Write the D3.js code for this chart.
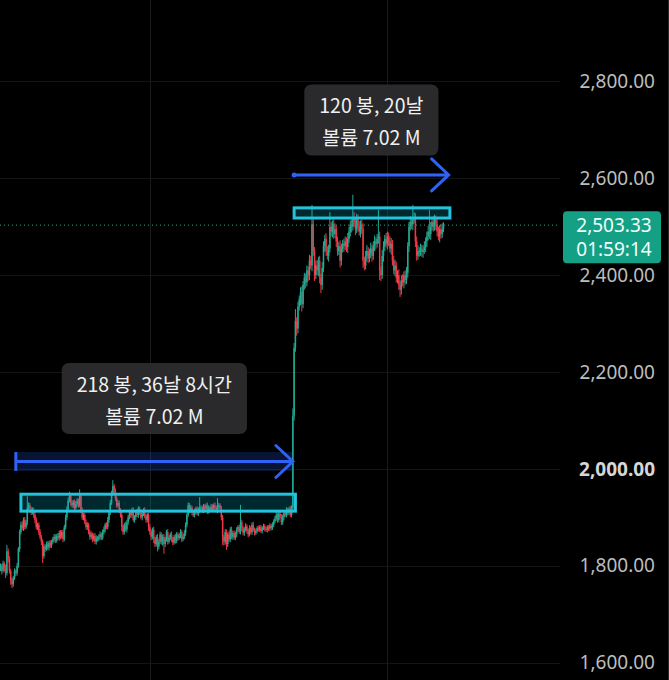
<!DOCTYPE html>
<html><head><meta charset="utf-8">
<script src="https://cdn.jsdelivr.net/npm/d3@7"></script>
<style>html,body{margin:0;padding:0;background:#000;overflow:hidden}</style>
</head><body><svg id="c" width="669" height="680"></svg>
<script>
// ---- data ----
const firstOpen = 1795;
const closes = [
1800,1790,1805,1795,1785, 1830,1815,1790, 1770,1762,1775, 1790,1785,1800, 1835,1870,1885,
1878,1895,1880,1890, 1920, 1925,1918,1910,1915,1905, 1895,1880,1885,1870,1860,1850, 1820,
1840,1835,1845,1838,1848,1842, 1850,1855,1860,1852,1862,1858,1868, 1860,1870,1855,
1880,1900,1918, 1935,1945, 1930,1925,1932,1920,1928,1935,1925, 1945,
1915,1900,1905,1890,1880,1885, 1870,1860,1865,1855,1862,1850,1858, 1855,1860,1865,1858,1870,
1875,1885,1880,1895,1910, 1930,1950,1965,1955,1940, 1925,1930,1915,1905,1880,1870,1885,1875,
1890,1900,1910,1905,1915,1895,1900,1912,1905,1918,1910,1900,1908,1915,1902,1895,1905,
1880,1870,1860,1875,1855,1845,1860,1840,1850,1865,
1850,1860,1845,1855,1870,1850,1858,1865,1855,1848,1860,1852,1865,1858,1862,1870,1855,1860,1868,
1885,1905,1925,1915,1920,1910,1905,1912,1918,1908,1915,1920,
1920,1915,1922,1918,1925,1912,1920,1916,1922,1918,1925,1920,1915,1922,1925,1918,
1900,1860,1850,1870,1845,1865,1855,1875,1860,1868,1858,
1865,1875,1880,1870,1890,1878,1868,1875,1882,1872,1865,1878,1870,1885,1875,1868,1872,1878,
1875,1880,1872,1878,1882,1876,1874,1880,1877,1883,1878,
1885,1892,1898,1905,1895,1908,1902,1890,1900,1910,1905,1915,1910,1918,1905,1920,
2110,2250,2305,2290,2335,
2350,2365,2340,2380,2395,2385,2410,2400,2430,2420, 2505, 2450,2400,
2420,2410,2430,2395,2380,2415, 2460,2475, 2450,2440,2455, 2500, 2490,2505,2485,2495,
2470,2450,2460,2430, 2455,2465,2460,2470,2458,2475, 2490,2505,2500, 2520,
2510,2495,2515,2500,2490,2505,2495, 2430,2420, 2440,2450,2435,2445,2455,2440,
2460,2470,2465,2475, 2480, 2410,2400, 2440,2460,2475,2465,2480,2470,2455,2465,
2430,2410,2420,2395,2400,2380,2370,2390, 2385,2400,2390,2405, 2460,2500,
2510,2505,2515,2520, 2470,2440,2450, 2450,2455,2448,2452,2458, 2470,2480,2490,2485,2500,
2510,2500,2515,2505, 2490,2480,2495,2485, 2495,2503.33
];
const highWick = [
5,4,6,4,8,13,6,5,4,6, 4,5,3,6,4,5,6,7,5,6, 5,25,6,5,4,6,5,6,5,4, 5,6,4,5,6,4,5,6,4,5,
4,5,6,5,4,6,5,6,4,5, 5,6,5,6,8,5,6,4,5,6, 5,4,13,5,6,4,5,6,5,4, 5,6,4,5,6,5,4,5,6,4,
5,6,4,5,6,5,6,5,12,4, 5,4,6,5,4,6,5,4,6,5, 5,6,4,5,6,5,4,6,5,4, 6,5,4,6,5,4,5,6,5,4,
6,5,4,6,5,6,4,5,6,5, 4,6,5,4,6,5,4,6,5,4, 5,6,4,5,6,5,4,6,5,6, 4,5,6,4,5,6,22,5,4,6,
5,4,6,5,4,6,5,4,6,5, 18,5,4,6,5,4,6,5,4,6, 5,6,4,5,6,5,4,5,36,5, 4,5,6,4,5,6,4,5,6,4,
5,4,5,4,5,4,5,4,5,4, 4,5,4,5,4,5,6,5,4,6, 5,6,4,5,6,5,4,6,5,15, 10,25,8,10,8,10,12,8,10,8,
10,8,12,10,40,10,8,10,12,8, 10,8,12,10,8,12,10,8,30,10, 8,10,12,8,10,8,12,10,8,10,
10,8,12,10,8,10,46,10,8,12, 10,12,8,10,12,8,10,12,8,10, 12,8,10,12,8,10,55,10,8,12,
10,8,12,10,8,10,12,8,10,12, 8,10,12,8,10,12,8,10,12,8, 10,12,8,30,10,8,10,12,8,10,
8,10,12,8,10,12,45,10,8,12, 10,8,12,10,8,10,12,6
];
const lowWick = [
6,8,4,7,10,5,8,6,9,8, 5,4,6,5,4,6,5,4,6,5, 4,6,5,6,5,4,6,7,5,6, 6,5,7,14,5,6,4,5,6,5,
5,4,6,5,4,5,6,5,4,6, 4,5,6,5,4,6,5,6,5,4, 6,5,4,6,5,6,4,5,6,5, 6,5,6,4,5,6,5,4,6,5,
4,5,6,4,5,6,5,4,5,6, 6,5,4,6,5,8,6,5,4,6, 5,4,6,5,4,6,5,4,6,5, 4,6,5,4,6,5,8,6,7,5,
8,6,5,10,6,5,6,8,20,6, 5,6,4,5,6,5,4,6,5,6, 4,5,6,4,5,6,5,4,6,5, 6,4,5,6,4,5,6,4,5,6,
4,6,5,4,6,5,4,6,5,4, 6,5,4,6,17,8,6,12,6,5, 6,5,6,4,5,6,5,4,5,6, 5,6,4,5,6,4,5,6,4,5,
4,5,4,5,4,5,4,5,4,5, 5,4,5,4,5,4,5,6,5,4, 6,5,6,4,5,6,5,4,5,8, 10,8,15,10,8,12,15,8,10,12,
8,12,10,8,12,10,12,8,10,12, 12,17,10,8,12,10,8,12,8,10, 12,10,8,12,10,8,14,10,8,12,
8,10,12,8,10,12,8,10,12,8, 10,8,12,10,15,10,8,12,10,8, 10,12,8,10,12,8,10,20,12,8,
12,10,8,12,10,8,12,10,8,12, 10,12,10,15,10,8,12,10,8,10, 12,8,10,12,8,12,10,8,12,10,
10,12,8,10,12,8,10,12,8,10, 8,12,10,8,12,10,8,6
];
const priceTicks = [1600, 1800, 2000, 2200, 2400, 2600, 2800];
const boldTick = 2000;
const timeGridBars = [117, 303];
const lastPrice = 2503.33;
const countdown = "01:59:14";
const boxBars = [[16, 231], [230, 352]];
const boxPrices = [[1913, 1948], [2518, 2539]];
const rangeBars = [[12, 229], [230, 351]];
const rangePrices = [[1996, 2035], [2604, 2610]];
const rangeLine1 = ["218 봉, 36날 8시간", "120 봉, 20날"];
const rangeLine2 = ["볼륨 7.02 M", "볼륨 7.02 M"];

// ---- chart ----
const W = 669, H = 680, plotRight = 560;
const svg = d3.select("#c");
svg.append("rect").attr("width", W).attr("height", H).attr("fill", "#000");

const x = d3.scaleLinear().domain([0, closes.length - 1]).range([0.5, 443.5]);
const y = d3.scaleLinear().domain([1600, 2800]).range([662.8, 81.4]);

// grid
svg.append("g").selectAll("line").data(priceTicks).join("line")
  .attr("x1", 0).attr("x2", plotRight)
  .attr("y1", d => Math.round(y(d)) + 0.5).attr("y2", d => Math.round(y(d)) + 0.5)
  .attr("stroke", "#141414").attr("stroke-width", 1);
svg.append("g").selectAll("line").data(timeGridBars).join("line")
  .attr("x1", d => Math.round(x(d)) + 0.5).attr("x2", d => Math.round(x(d)) + 0.5)
  .attr("y1", 0).attr("y2", H)
  .attr("stroke", "#1a1a1a").attr("stroke-width", 1);
svg.append("line").attr("x1", W - 0.5).attr("x2", W - 0.5).attr("y1", 0).attr("y2", H)
  .attr("stroke", "#2a2a2a");

// candles
const candles = closes.map((c, i) => {
  const o = i === 0 ? firstOpen : closes[i - 1];
  return { i, o, c, h: Math.max(o, c) + highWick[i], l: Math.min(o, c) - lowWick[i] };
});
const up = "#22ab94", down = "#f23645";
const cg = svg.append("g");
cg.selectAll("line").data(candles).join("line")
  .attr("x1", d => x(d.i)).attr("x2", d => x(d.i))
  .attr("y1", d => y(d.h)).attr("y2", d => y(d.l))
  .attr("stroke", d => d.c >= d.o ? up : down).attr("stroke-width", 1);
cg.selectAll("rect").data(candles).join("rect")
  .attr("x", d => x(d.i) - 0.75).attr("width", 1.5)
  .attr("y", d => y(Math.max(d.o, d.c)))
  .attr("height", d => Math.max(1, Math.abs(y(d.o) - y(d.c))))
  .attr("fill", d => d.c >= d.o ? up : down);

// current price dotted line
svg.append("line").attr("x1", 0).attr("x2", plotRight)
  .attr("y1", y(lastPrice)).attr("y2", y(lastPrice))
  .attr("stroke", "#22ab94").attr("stroke-width", 1).attr("stroke-dasharray", "1,3");

// rectangles (drawings)
boxBars.forEach((b, k) => {
  svg.append("rect")
    .attr("x", x(b[0])).attr("width", x(b[1]) - x(b[0]))
    .attr("y", y(boxPrices[k][1])).attr("height", y(boxPrices[k][0]) - y(boxPrices[k][1]))
    .attr("fill", "rgba(0,188,212,0.22)").attr("stroke", "#22c3db").attr("stroke-width", 3);
});

// date ranges
rangeBars.forEach((r, k) => {
  const x0 = x(r[0]), x1 = x(r[1]);
  const yt = y(rangePrices[k][1]), yb = y(rangePrices[k][0]);
  const ym = (yt + yb) / 2;
  const g = svg.append("g");
  g.append("rect").attr("x", x0).attr("width", x1 - x0).attr("y", yt).attr("height", yb - yt)
    .attr("fill", "rgba(41,98,255,0.2)");
  if (k === 0) {
    g.append("line").attr("x1", x0).attr("x2", x0).attr("y1", yt).attr("y2", yb)
      .attr("stroke", "#2f62f5").attr("stroke-width", 3);
  } else {
    g.append("circle").attr("cx", x0).attr("cy", ym).attr("r", 2.5).attr("fill", "#2f62f5");
  }
  g.append("line").attr("x1", x0).attr("x2", x1 - 1).attr("y1", ym).attr("y2", ym)
    .attr("stroke", "#2f62f5").attr("stroke-width", 3);
  g.append("path").attr("d", `M${x1 - 17},${ym - 16}L${x1},${ym}L${x1 - 17},${ym + 16}`)
    .attr("fill", "none").attr("stroke", "#2f62f5").attr("stroke-width", 3)
    .attr("stroke-linejoin", "miter").attr("stroke-linecap", "round");

  // label
  const lg = svg.append("g");
  const bg = lg.append("rect").attr("rx", 7).attr("fill", "#2a2a2c");
  const cx = (x0 + x1) / 2;
  const t1 = lg.append("text").attr("x", cx).attr("text-anchor", "middle")
    .attr("font-family", "'Noto Sans CJK KR','Noto Sans',sans-serif").attr("font-size", 19.5)
    .attr("fill", "#f0f0f0").text(rangeLine1[k]);
  const t2 = lg.append("text").attr("x", cx).attr("text-anchor", "middle")
    .attr("font-family", "'Noto Sans CJK KR','Noto Sans',sans-serif").attr("font-size", 19.5)
    .attr("fill", "#f0f0f0").text(rangeLine2[k]);
  const w = Math.max(t1.node().getComputedTextLength(), t2.node().getComputedTextLength()) + 30;
  const bh = 71, bBottom = yt - 18, bTop = bBottom - bh;
  bg.attr("x", cx - w / 2).attr("width", w).attr("y", bTop).attr("height", bh);
  t1.attr("y", bTop + 22).attr("dy", "0.35em");
  t2.attr("y", bTop + 54).attr("dy", "0.35em");
});

// price axis
const axis = d3.axisLeft(y).tickValues(priceTicks).tickSize(0).tickPadding(0)
  .tickFormat(d3.format(",.2f"));
const ag = svg.append("g").attr("transform", "translate(655,0)").call(axis);
ag.select(".domain").remove();
ag.selectAll("text")
  .attr("font-family", "'Noto Sans',sans-serif").attr("font-size", 19)
  .attr("fill", d => d === boldTick ? "#d6d6d6" : "#bdbdbd")
  .attr("font-weight", d => d === boldTick ? "bold" : "normal");

// last price tag
const ty = y(lastPrice);
svg.append("rect").attr("x", 563).attr("y", ty - 14).attr("width", 98).attr("height", 52)
  .attr("rx", 4).attr("fill", "#14a085");
svg.append("text").attr("x", 614).attr("y", ty).attr("dy", "0.35em").attr("text-anchor", "middle")
  .attr("font-family", "'Noto Sans',sans-serif").attr("font-size", 19).attr("fill", "#f2fffb")
  .text(d3.format(",.2f")(lastPrice));
svg.append("text").attr("x", 614).attr("y", ty + 24).attr("dy", "0.35em").attr("text-anchor", "middle")
  .attr("font-family", "'Noto Sans',sans-serif").attr("font-size", 19).attr("fill", "#f2fffb")
  .text(countdown);
</script></body></html>
